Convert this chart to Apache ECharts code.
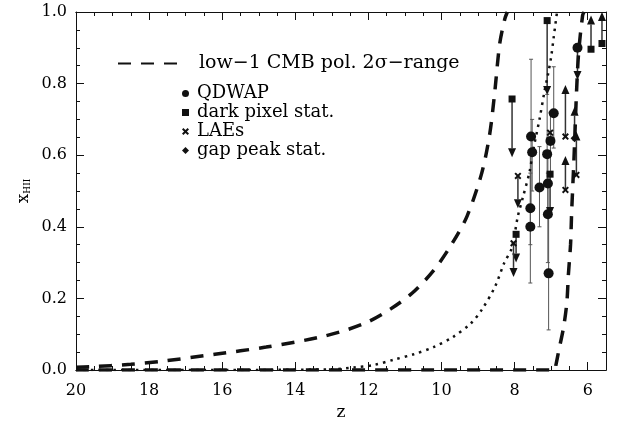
<!DOCTYPE html>
<html>
<head>
<meta charset="utf-8">
<script src="https://cdn.jsdelivr.net/npm/echarts@6/dist/echarts.min.js"></script>
<style>
html, body { margin: 0; padding: 0; background: #fff; }
#chart { width: 618px; height: 424px; }
</style>
</head>
<body>
<div id="chart"></div>
<script>
// low-l CMB polarisation 2 sigma range: the two bounding curves
const cmbLowZ = [20, 19.6, 18.5, 17.6, 16.2, 14.8, 13.4, 12.6, 12.0, 11.4, 10.8, 10.2, 9.7, 9.3, 8.9, 8.68, 8.54, 8.41, 8.27, 8.2]
const cmbLowX = [0.008, 0.009, 0.016, 0.025, 0.044, 0.064, 0.09, 0.112, 0.135, 0.17, 0.215, 0.28, 0.355, 0.43, 0.55, 0.66, 0.78, 0.91, 0.98, 1.0]
const cmbHighZ = [20, 6.9, 6.87, 6.8, 6.66, 6.57, 6.53, 6.47, 6.44, 6.38, 6.35, 6.31, 6.25, 6.14, 6.1]
const cmbHighX = [0, 0, 0.014, 0.05, 0.12, 0.19, 0.265, 0.35, 0.44, 0.58, 0.66, 0.768, 0.885, 0.99, 1.0]

// dotted model history
const modelZ = [20, 16, 13, 12.4, 11.85, 11.3, 10.76, 10.22, 9.69, 9.2, 8.9, 8.54, 8.28, 8.08, 7.91, 7.78, 7.59, 7.5, 7.32, 7.18, 7.09, 7.0, 6.93, 6.84]
const modelX = [0, 0, 0.002, 0.007, 0.014, 0.029, 0.044, 0.064, 0.092, 0.13, 0.168, 0.232, 0.30, 0.34, 0.43, 0.48, 0.554, 0.61, 0.70, 0.78, 0.824, 0.875, 0.93, 1.0]

// QDWAP: z, x_HII, error low, error high
const qdwapZ = [6.93, 7.55, 7.52, 7.11, 7.02, 7.32, 7.09, 7.57, 7.57, 7.09, 7.07]
const qdwapX = [0.717, 0.652, 0.608, 0.603, 0.64, 0.51, 0.521, 0.452, 0.40, 0.435, 0.27]
const qdwapLo = [0.62, 0.45, 0.50, 0.52, 0.55, 0.40, 0.43, 0.35, 0.243, 0.30, 0.112]
const qdwapHi = [0.847, 0.868, 0.70, 0.77, 0.72, 0.624, 0.60, 0.60, 0.55, 0.55, 0.45]
// QDWAP limits: z, x_HII, arrow end
const qdwapLimZ = [6.28]
const qdwapLimX = [0.90]
const qdwapLimEnd = [0.81]

// dark pixel statistics (all limits)
const darkZ = [7.11, 8.07, 5.91, 5.61, 7.03, 7.96]
const darkX = [0.976, 0.757, 0.896, 0.912, 0.547, 0.379]
const darkEnd = [0.768, 0.594, 0.99, 1.0, 0.43, 0.30]

// Lyman alpha emitters
const laeZ = [7.03, 7.91, 8.03, 6.61, 6.61, 6.31]
const laeX = [0.663, 0.542, 0.354, 0.652, 0.503, 0.545]
const laeEnd = [null, 0.452, 0.26, 0.796, 0.598, 0.666]

// gap peak statistics
const gapZ = [6.36]
const gapX = [0.647]
const gapEnd = [0.735]

const xMajor = [6, 8, 10, 12, 14, 16, 18, 20]
const xMinor = []
for (let v = 6; v <= 20; v += 0.5) xMinor.push(v)

const FONT = 'DejaVu Serif'
const INK = '#111'
const crossPath = 'path://M0,2L2,0L5,3L8,0L10,2L7,5L10,8L8,10L5,7L2,10L0,8L3,5Z'

function pairs(xs, ys) {
  return xs.map((x, i) => [x, ys[i]])
}

function errorItem(params, api) {
  const top = api.coord([api.value(0), api.value(3)])
  const bot = api.coord([api.value(0), api.value(2)])
  const style = { stroke: '#555', lineWidth: 1 }
  return {
    type: 'group',
    children: [
      { type: 'line', shape: { x1: top[0], y1: top[1], x2: bot[0], y2: bot[1] }, style },
      { type: 'line', shape: { x1: top[0] - 2, y1: top[1], x2: top[0] + 2, y2: top[1] }, style },
      { type: 'line', shape: { x1: bot[0] - 2, y1: bot[1], x2: bot[0] + 2, y2: bot[1] }, style }
    ]
  }
}

function arrowItem(params, api) {
  if (api.value(2) == null || isNaN(api.value(2))) return
  const start = api.coord([api.value(0), api.value(1)])
  const end = api.coord([api.value(0), api.value(2)])
  const dir = end[1] > start[1] ? 1 : -1
  const h = 9, w = 4
  return {
    type: 'group',
    children: [
      { type: 'line', shape: { x1: start[0], y1: start[1], x2: end[0], y2: end[1] - dir * h }, style: { stroke: '#333', lineWidth: 1.5 } },
      { type: 'polygon', shape: { points: [[end[0], end[1]], [end[0] - w, end[1] - dir * h], [end[0] + w, end[1] - dir * h]] }, style: { fill: INK } }
    ]
  }
}

function limitData(zs, xs, ends) {
  return zs.map((z, i) => [z, xs[i], ends[i]])
}

const qdwapErr = qdwapZ.map((z, i) => [z, qdwapX[i], qdwapLo[i], qdwapHi[i]])
const allLimits = [].concat(
  limitData(qdwapLimZ, qdwapLimX, qdwapLimEnd),
  limitData(darkZ, darkX, darkEnd),
  limitData(laeZ, laeX, laeEnd),
  limitData(gapZ, gapX, gapEnd)
)

function xAxisDef(pos, ticks, len, labels) {
  return {
    type: 'value', position: pos, inverse: true, min: 5.5, max: 20,
    axisLine: { show: true, onZero: false, lineStyle: { color: INK, width: 1 } },
    axisTick: { inside: true, length: len, customValues: ticks, lineStyle: { color: INK } },
    axisLabel: labels
      ? { customValues: xMajor, color: '#000', fontFamily: FONT, fontSize: 16, margin: 13 }
      : { show: false },
    splitLine: { show: false }
  }
}

function yAxisDef(pos, labels) {
  return {
    type: 'value', position: pos, min: 0, max: 1, interval: 0.2,
    axisLine: { show: true, onZero: false, lineStyle: { color: INK, width: 1 } },
    axisTick: { inside: true, length: 8, lineStyle: { color: INK } },
    minorTick: { show: true, splitNumber: 4, length: 4, lineStyle: { color: INK } },
    axisLabel: labels
      ? { color: '#000', fontFamily: FONT, fontSize: 16, margin: 9, formatter: v => v.toFixed(1) }
      : { show: false },
    splitLine: { show: false }
  }
}

const chart = echarts.init(document.getElementById('chart'), null, { renderer: 'canvas' })

const bottomMajor = xAxisDef('bottom', xMajor, 8, true)
bottomMajor.name = 'z'
bottomMajor.nameLocation = 'middle'
bottomMajor.nameGap = 33
bottomMajor.nameTextStyle = { fontFamily: FONT, fontSize: 17, color: '#000' }

const leftAxis = yAxisDef('left', true)
leftAxis.name = 'x{sub|HII}'
leftAxis.nameLocation = 'middle'
leftAxis.nameGap = 44
leftAxis.nameMoveOverlap = false
leftAxis.nameRotate = 90
leftAxis.nameTextStyle = {
  fontFamily: FONT, fontSize: 17, color: '#000',
  rich: { sub: { fontFamily: FONT, fontSize: 9, verticalAlign: 'bottom', padding: [6, 0, 0, 0] } }
}

const CMB_NAME = 'low\u22121 CMB pol. 2\u03c3\u2212range'

chart.setOption({
  animation: false,
  backgroundColor: '#fff',
  grid: { left: 76, right: 12, top: 12, bottom: 54, containLabel: false, outerBoundsMode: 'none' },
  xAxis: [
    bottomMajor,
    xAxisDef('bottom', xMinor, 4, false),
    xAxisDef('top', xMajor, 8, false),
    xAxisDef('top', xMinor, 4, false)
  ],
  yAxis: [leftAxis, yAxisDef('right', false)],
  legend: [
    {
      data: [CMB_NAME],
      left: 117, top: 54, padding: 0,
      itemWidth: 63, itemHeight: 14,
      selectedMode: false,
      itemStyle: { opacity: 0 },
      textStyle: { fontFamily: FONT, fontSize: 19, color: '#000', padding: [0, 0, 0, 13] }
    },
    {
      data: [
        { name: 'QDWAP', icon: 'circle' },
        { name: 'dark pixel stat.', icon: 'rect' },
        { name: 'LAEs', icon: crossPath },
        { name: 'gap peak stat.', icon: 'diamond' }
      ],
      orient: 'vertical',
      left: 182, top: 84, padding: 0,
      itemWidth: 7, itemHeight: 7, itemGap: 0,
      selectedMode: false,
      itemStyle: { color: INK },
      textStyle: { fontFamily: FONT, fontSize: 18, color: '#000', lineHeight: 19, padding: [0, 0, 0, 3] }
    }
  ],
  series: [
    {
      name: CMB_NAME, type: 'line', data: pairs(cmbLowZ, cmbLowX),
      symbol: 'none', smooth: 0.3, clip: true,
      itemStyle: { color: INK },
      lineStyle: { color: INK, width: 3.5, type: [13, 10] }
    },
    {
      name: CMB_NAME, type: 'line', data: pairs(cmbHighZ, cmbHighX),
      symbol: 'none', smooth: 0.3, clip: true,
      itemStyle: { color: INK },
      lineStyle: { color: INK, width: 3.5, type: [13, 10] }
    },
    {
      name: 'model', type: 'line', data: pairs(modelZ, modelX),
      symbol: 'none', smooth: 0.3, clip: true,
      lineStyle: { color: INK, width: 2.5, type: [2.5, 5] }
    },
    {
      name: 'errors', type: 'custom', renderItem: errorItem, data: qdwapErr,
      encode: { x: 0, y: [1, 2, 3] }, clip: true, z: 3
    },
    {
      name: 'limits', type: 'custom', renderItem: arrowItem, data: allLimits,
      encode: { x: 0, y: [1, 2] }, clip: true, z: 3
    },
    {
      name: 'QDWAP', type: 'scatter', symbol: 'circle', symbolSize: 10, z: 4,
      data: pairs(qdwapZ, qdwapX).concat(pairs(qdwapLimZ, qdwapLimX)),
      itemStyle: { color: INK, opacity: 1 }
    },
    {
      name: 'dark pixel stat.', type: 'scatter', symbol: 'rect', symbolSize: 7, z: 4,
      data: pairs(darkZ, darkX),
      itemStyle: { color: INK, opacity: 1 }
    },
    {
      name: 'LAEs', type: 'scatter', symbol: crossPath, symbolSize: 7, z: 4,
      data: pairs(laeZ, laeX),
      itemStyle: { color: INK, opacity: 1 }
    },
    {
      name: 'gap peak stat.', type: 'scatter', symbol: 'diamond', symbolSize: 8, z: 4,
      data: pairs(gapZ, gapX),
      itemStyle: { color: INK, opacity: 1 }
    }
  ]
})
</script>
</body>
</html>
